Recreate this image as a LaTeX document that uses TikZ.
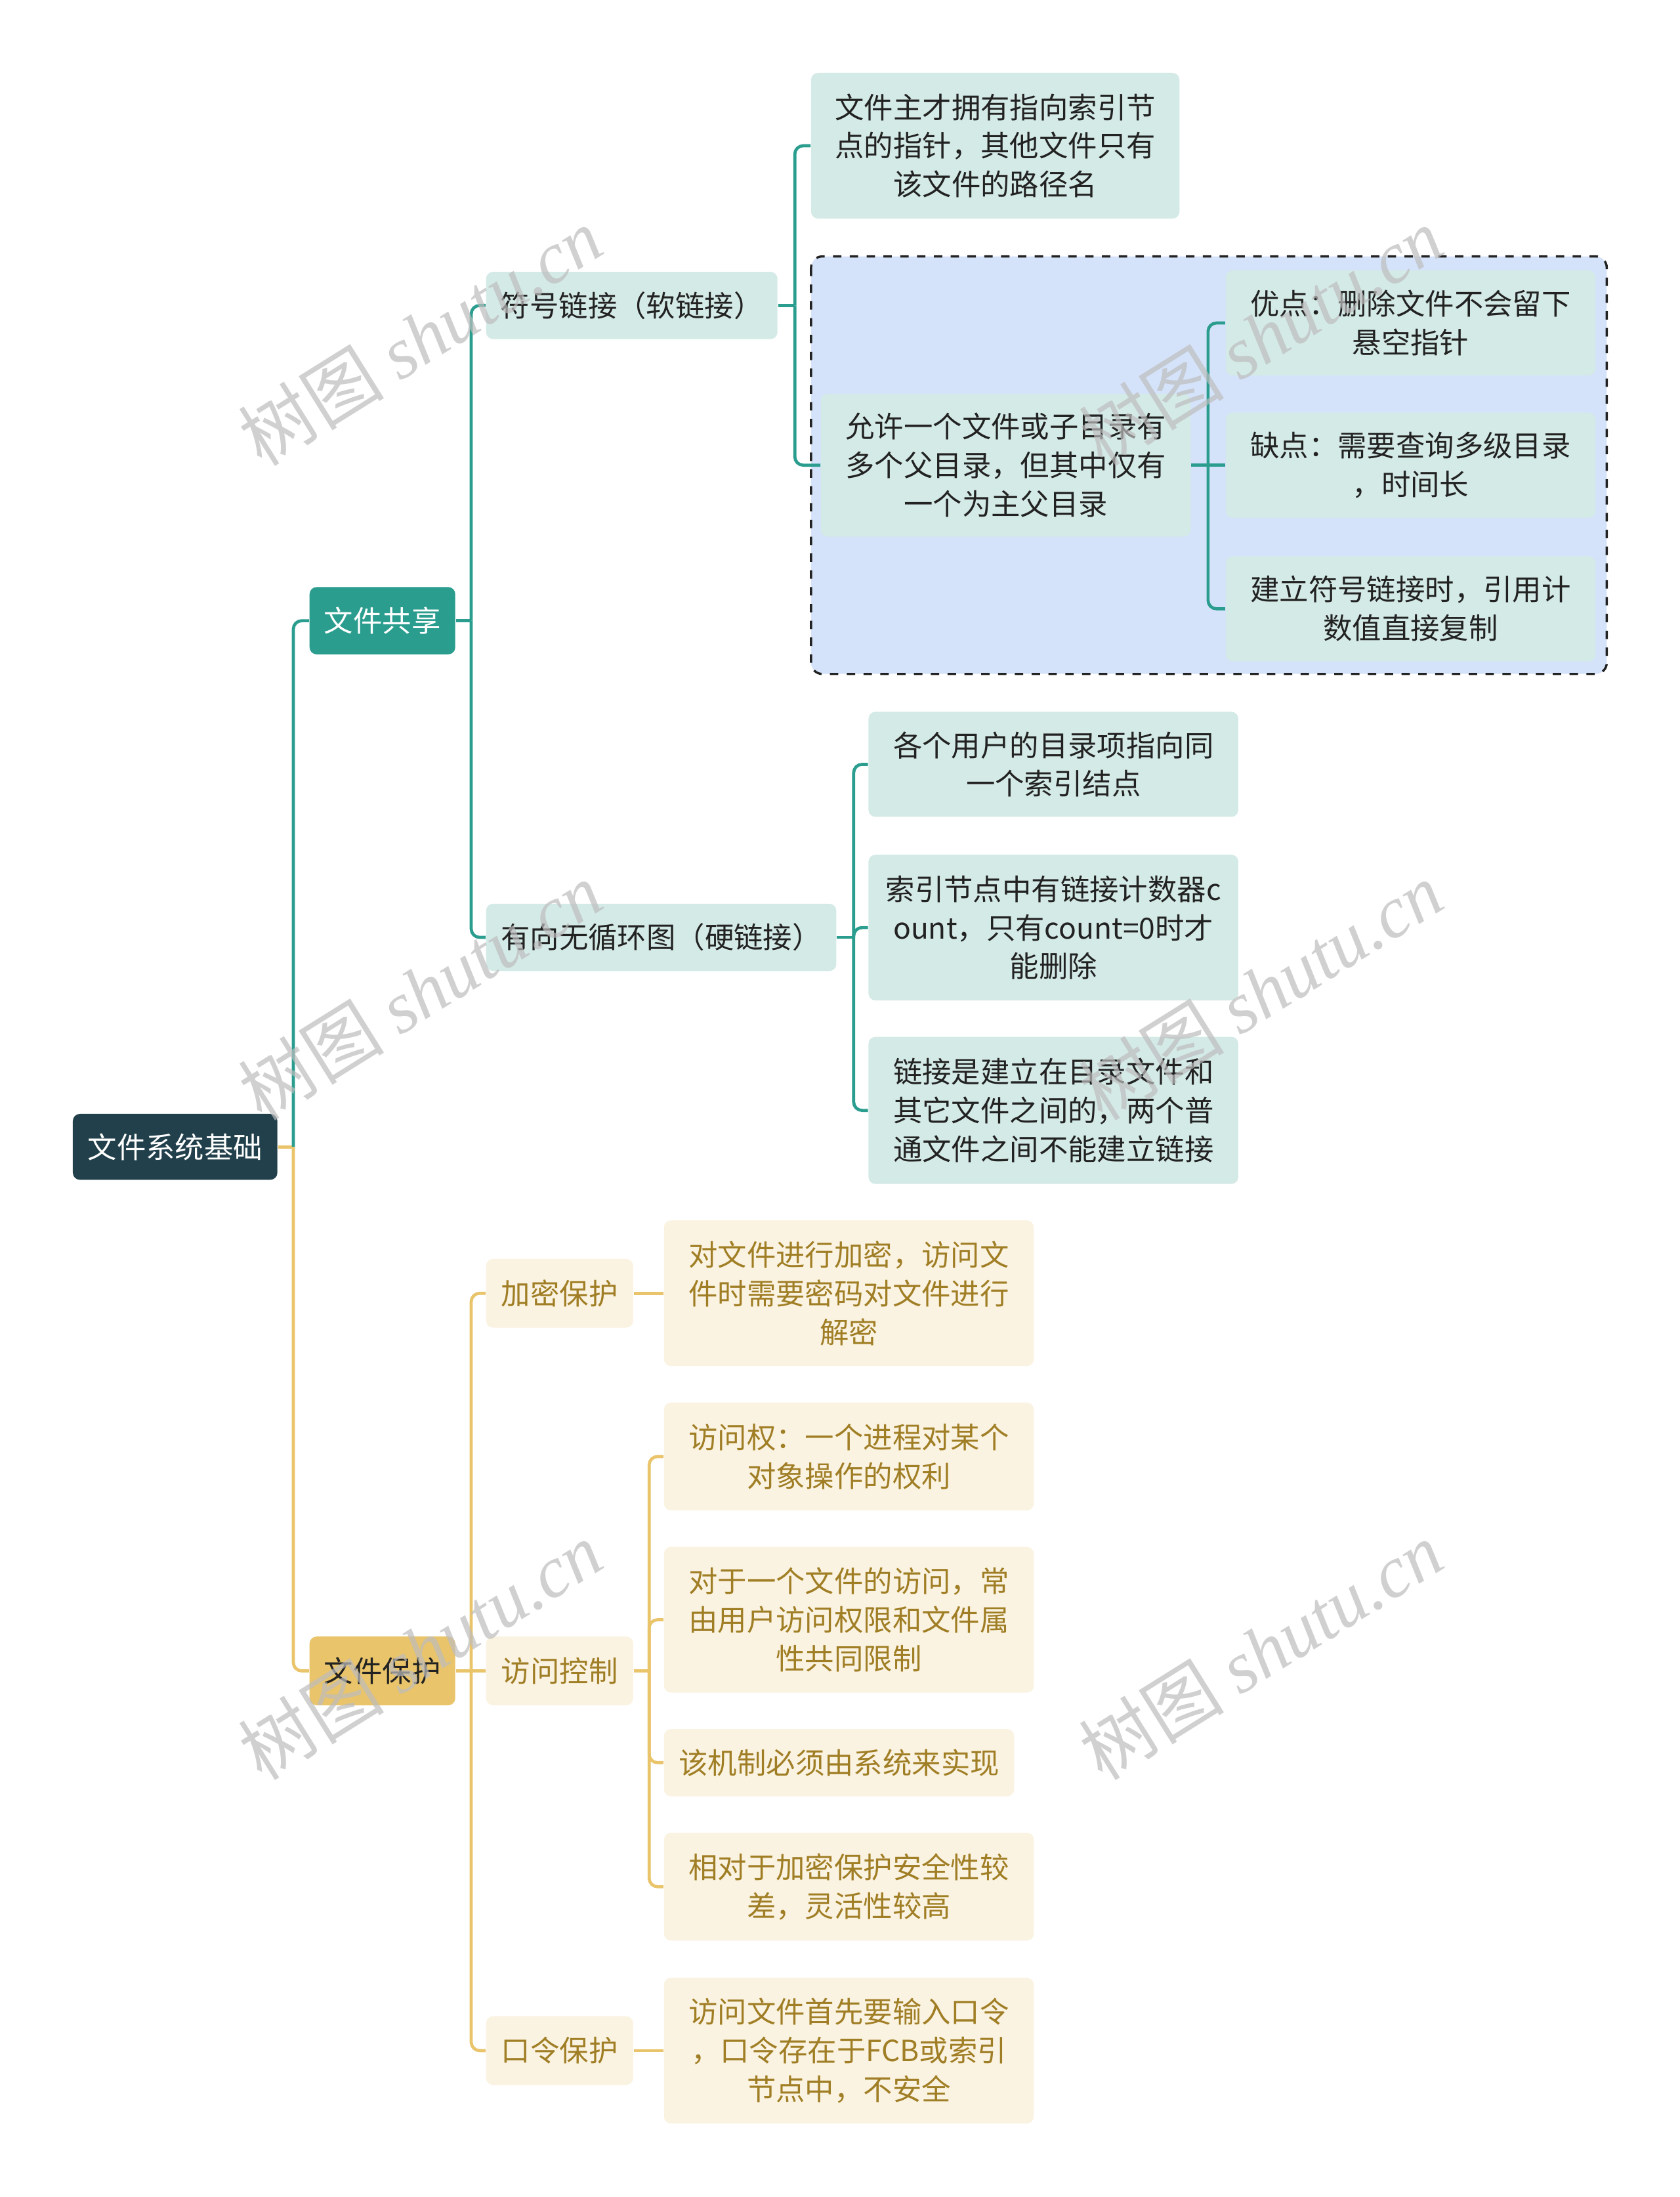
\documentclass[tikz,border=0pt]{standalone}
\usepackage{fontspec}
\setmainfont{Noto Sans CJK SC}
\newfontfamily\wmfont{Liberation Serif}
\definecolor{rootcol}{HTML}{21404B}
\definecolor{tealcol}{HTML}{2A9D8F}
\definecolor{mintcol}{HTML}{D4EAE6}
\definecolor{groupcol}{HTML}{D5E3FA}
\definecolor{goldcol}{HTML}{E9C46A}
\definecolor{creamcol}{HTML}{FBF3E1}
\definecolor{goldtext}{HTML}{A07E25}
\definecolor{darktext}{HTML}{222222}
\definecolor{wmgray}{HTML}{BDBDBD}
\tikzset{
  card/.style={inner sep=0pt, align=center, rounded corners=2.5pt,
    font=\fontsize{10.4}{13.8}\selectfont},
  rootbox/.style={card, fill=rootcol, text=white},
  sharebox/.style={card, fill=tealcol, text=white},
  protbox/.style={card, fill=goldcol, text=darktext},
  mintbox/.style={card, fill=mintcol, text=darktext},
  creambox/.style={card, fill=creamcol, text=goldtext},
  tealline/.style={draw=tealcol, line width=1.1pt},
  goldline/.style={draw=goldcol, line width=1.1pt},
  elbow/.style={rounded corners=3pt},
  watermark/.style={rotate=32, text=wmgray, opacity=0.7,
    font=\fontsize{26}{26}\selectfont}
}
\begin{document}
\begin{tikzpicture}[x=0.5pt, y=-0.5pt]
    \useasboundingbox[fill=white] (0,0) rectangle (1199,1568);

    % Group behind the symbolic link notes
    \draw[fill=groupcol, draw=darktext, line width=0.8pt, dashed, rounded corners=4pt]
        (579,183) rectangle (1147,481);

    % Main topic and branches
    \node[rootbox, text width=73pt, minimum height=23.5pt] (root) at (125,818.5) {文件系统基础};
    \node[sharebox, text width=52pt, minimum height=24pt] (share) at (273,443) {文件共享};
    \node[protbox, text width=52pt, minimum height=24.5pt] (protect) at (273,1192.5) {文件保护};

    % File sharing
    \node[mintbox, text width=104pt, minimum height=24pt] (symlink) at (451,218) {符号链接（软链接）};
    \node[mintbox, text width=125pt, minimum height=24pt] (hardlink) at (472,669) {有向无循环图（硬链接）};
    \node[mintbox, text width=131.5pt, minimum height=52pt] (owner) at (710.5,104)
        {文件主才拥有指向索引节\\点的指针，其他文件只有\\该文件的路径名};
    \node[mintbox, text width=132pt, minimum height=51pt] (allow) at (718,332)
        {允许一个文件或子目录有\\多个父目录，但其中仅有\\一个为主父目录};
    \node[mintbox, text width=132pt, minimum height=37.5pt] (pros) at (1007,230.5)
        {优点：删除文件不会留下\\悬空指针};
    \node[mintbox, text width=132pt, minimum height=37.5pt] (cons) at (1007,332)
        {缺点：需要查询多级目录\\，时间长};
    \node[mintbox, text width=132pt, minimum height=37.5pt] (refcnt) at (1007,434.5)
        {建立符号链接时，引用计\\数值直接复制};
    \node[mintbox, text width=132pt, minimum height=37.5pt] (users) at (752,545.5)
        {各个用户的目录项指向同\\一个索引结点};
    \node[mintbox, text width=132pt, minimum height=52pt] (counter) at (752,662)
        {索引节点中有链接计数器c\\ount，只有count=0时才\\能删除};
    \node[mintbox, text width=132pt, minimum height=52.5pt] (between) at (752,792.5)
        {链接是建立在目录文件和\\其它文件之间的，两个普\\通文件之间不能建立链接};

    % File protection
    \node[creambox, text width=52.5pt, minimum height=24.5pt] (encrypt) at (399.5,923) {加密保护};
    \node[creambox, text width=52.5pt, minimum height=24.5pt] (access) at (399.5,1192.5) {访问控制};
    \node[creambox, text width=52.5pt, minimum height=24.5pt] (passwd) at (399.5,1463.5) {口令保护};
    \node[creambox, text width=132pt, minimum height=52pt] (encdesc) at (606,923)
        {对文件进行加密，访问文\\件时需要密码对文件进行\\解密};
    \node[creambox, text width=132pt, minimum height=38.5pt] (right) at (606,1039.5)
        {访问权：一个进程对某个\\对象操作的权利};
    \node[creambox, text width=132pt, minimum height=52pt] (common) at (606,1156)
        {对于一个文件的访问，常\\由用户访问权限和文件属\\性共同限制};
    \node[creambox, text width=125pt, minimum height=24pt] (system) at (599,1258)
        {该机制必须由系统来实现};
    \node[creambox, text width=132pt, minimum height=38.5pt] (weaker) at (606,1346.5)
        {相对于加密保护安全性较\\差，灵活性较高};
    \node[creambox, text width=132pt, minimum height=52pt] (pwdesc) at (606,1463.5)
        {访问文件首先要输入口令\\，口令存在于FCB或索引\\节点中，不安全};

    % Connectors
    \draw[goldline] (root.east) -- ++(11,0) coordinate (root-t);
    \draw[tealline, elbow] (root-t) |- (share.west);
    \draw[goldline, elbow] (root-t) |- (protect.west);

    \draw[tealline] (share.east) -- ++(11,0) coordinate (share-t);
    \draw[tealline, elbow] (share-t) |- (symlink.west);
    \draw[tealline, elbow] (share-t) |- (hardlink.west);

    \draw[tealline] (symlink.east) -- ++(12,0) coordinate (symlink-t);
    \draw[tealline, elbow] (symlink-t) |- (owner.west);
    \draw[tealline, elbow] (symlink-t) |- (allow.west);

    \draw[tealline] (allow.east) -- ++(12,0) coordinate (allow-t);
    \draw[tealline, elbow] (allow-t) |- (pros.west);
    \draw[tealline] (allow-t) -- (cons.west);
    \draw[tealline, elbow] (allow-t) |- (refcnt.west);

    \draw[tealline] (hardlink.east) -- ++(12,0) coordinate (hardlink-t);
    \draw[tealline, elbow] (hardlink-t) |- (users.west);
    \draw[tealline, elbow] (hardlink-t) |- (counter.west);
    \draw[tealline, elbow] (hardlink-t) |- (between.west);

    \draw[goldline] (protect.east) -- ++(11,0) coordinate (protect-t);
    \draw[goldline, elbow] (protect-t) |- (encrypt.west);
    \draw[goldline] (protect-t) -- (access.west);
    \draw[goldline, elbow] (protect-t) |- (passwd.west);

    \draw[goldline] (encrypt.east) -- (encdesc.west);
    \draw[goldline] (passwd.east) -- (pwdesc.west);

    \draw[goldline] (access.east) -- ++(11,0) coordinate (access-t);
    \draw[goldline, elbow] (access-t) |- (right.west);
    \draw[goldline, elbow] (access-t) |- (common.west);
    \draw[goldline, elbow] (access-t) |- (system.west);
    \draw[goldline, elbow] (access-t) |- (weaker.west);

    % Watermarks
    \foreach \wx in {300,900}
        \foreach \wy in {240,707,1178}
            \node[watermark] (mark-\wx-\wy) at (\wx,\wy) {树图 {\wmfont\itshape shutu.cn}};
\end{tikzpicture}
\end{document}
